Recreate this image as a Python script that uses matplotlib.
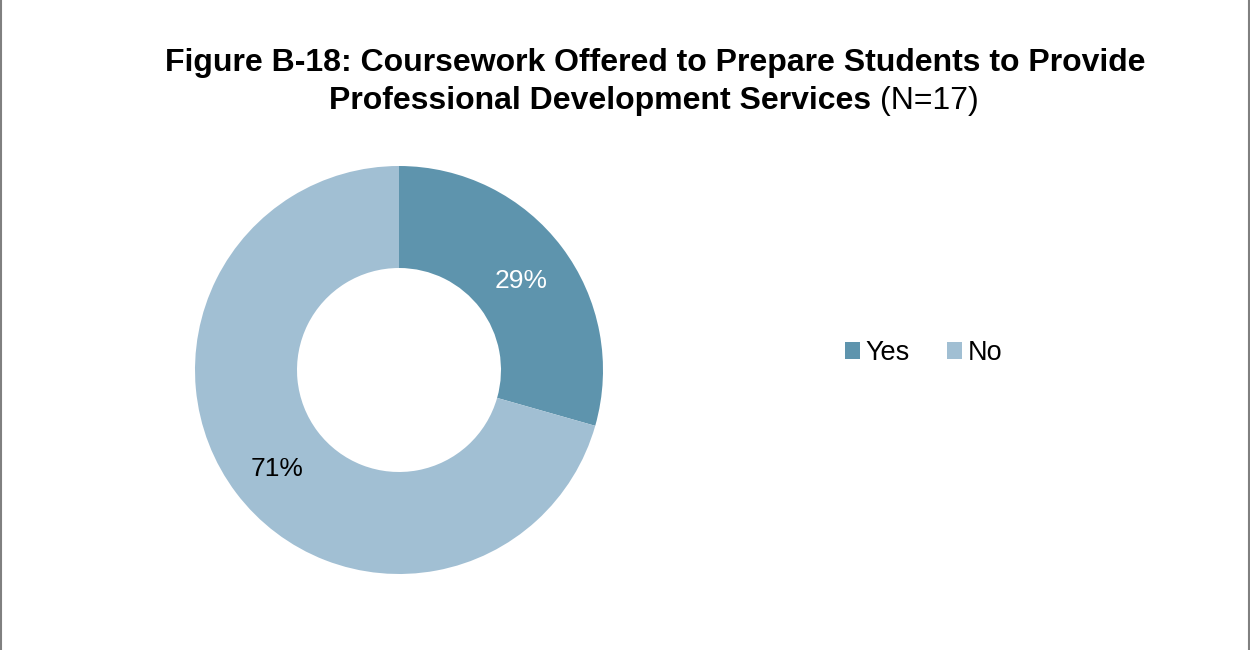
import matplotlib
matplotlib.use("Agg")
import matplotlib.pyplot as plt
from matplotlib.patches import Patch
from matplotlib.lines import Line2D

categories = ["Yes", "No"]
values = [5, 12]  # N=17
colors = ["#5E94AD", "#A1BFD3"]
label_colors = ["white", "black"]

plt.rcParams['font.family'] = ['Liberation Sans', 'DejaVu Sans']

W, H = 1250, 650
fig = plt.figure(figsize=(W / 100, H / 100), dpi=100)

cx, cy, R = 399, 370, 204
ax = fig.add_axes([(cx - R) / W, (H - cy - R) / H, 2 * R / W, 2 * R / H])
wedges, texts, autotexts = ax.pie(
    values, colors=colors, startangle=90, counterclock=False, radius=1.0,
    wedgeprops=dict(width=0.5, linewidth=0),
    autopct=lambda p: f"{p:.0f}%", pctdistance=0.75,
    textprops=dict(fontsize=19))
label_dy = [-0.015, -0.035]
for t, c, d in zip(autotexts, label_colors, label_dy):
    t.set_color(c)
    x, y = t.get_position()
    t.set_position((x, y + d))
ax.set_xlim(-1, 1)
ax.set_ylim(-1, 1)
ax.set_aspect('equal')
ax.axis('off')

# Title
fs = 23
fig.text(655 / W, 1 - 63 / H, "Figure B-18: Coursework Offered to Prepare Students to Provide",
         ha='center', va='center', fontsize=fs, fontweight='bold')
fig.canvas.draw()
r = fig.canvas.get_renderer()
t1 = fig.text(0, 1 - 101 / H, "Professional Development Services ", ha='left', va='center',
              fontsize=fs, fontweight='bold')
t2 = fig.text(0, 1 - 101 / H, "(N=17)", ha='left', va='center', fontsize=fs)
w1 = t1.get_window_extent(r).width
w2 = t2.get_window_extent(r).width
x0 = 654 - (w1 + w2) / 2
t1.set_x(x0 / W)
t2.set_x((x0 + w1) / W)

# Legend
handles = [Patch(facecolor=c, edgecolor='none', label=l) for c, l in zip(colors, categories)]
fig.legend(handles=handles, loc='center left', bbox_to_anchor=(845 / W, 1 - 353 / H),
           ncol=2, frameon=False, fontsize=19.5, handlelength=0.55, handleheight=0.55,
           handletextpad=0.2, columnspacing=1.4, borderpad=0, borderaxespad=0)

# Border lines (left and right)
fig.add_artist(Line2D([1.5 / W, 1.5 / W], [0, 1], transform=fig.transFigure, color='#808080', lw=1.5))
fig.add_artist(Line2D([1 - 1.5 / W, 1 - 1.5 / W], [0, 1], transform=fig.transFigure, color='#808080', lw=1.5))

fig.savefig("out.png", dpi=100)
